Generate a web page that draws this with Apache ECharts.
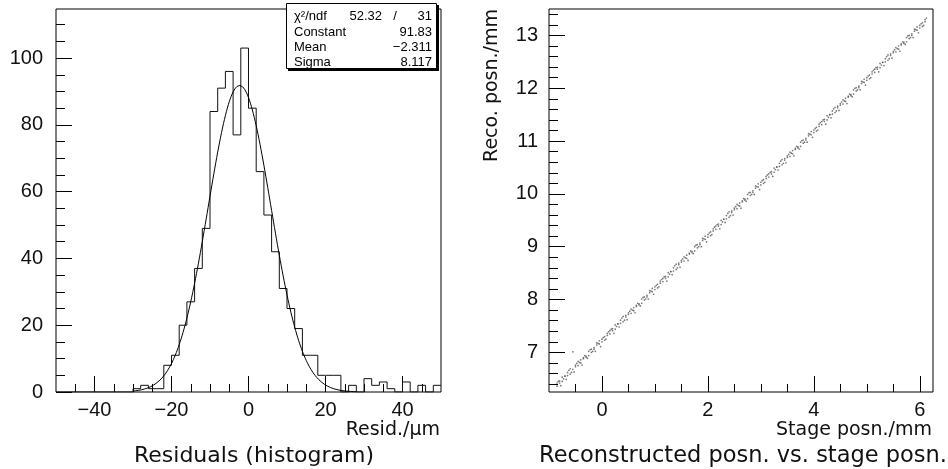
<!DOCTYPE html>
<html>
<head>
<meta charset="utf-8">
<title>Residuals and reconstructed position</title>
<script src="https://cdn.jsdelivr.net/npm/echarts/dist/echarts.min.js"></script>
<style>
  html, body { margin: 0; padding: 0; background: #fff; }
  #chart { width: 948px; height: 469px; }
</style>
</head>
<body>
<div id="chart"></div>
<script>
// ---- Residual histogram: 2 um bins from -50 to 50 ----
const binLowEdges = [
  -50, -48, -46, -44, -42, -40, -38, -36, -34, -32,
  -30, -28, -26, -24, -22, -20, -18, -16, -14, -12,
  -10, -8, -6, -4, -2, 0, 2, 4, 6, 8,
  10, 12, 14, 16, 18, 20, 22, 24, 26, 28,
  30, 32, 34, 36, 38, 40, 42, 44, 46, 48
];
const binCounts = [
  0, 0, 0, 0, 0, 0, 0, 0, 0, 0,
  1, 2, 1, 1, 8, 11, 20, 27, 37, 49,
  84, 91, 96, 77, 103, 85, 66, 53, 42, 31,
  25, 19, 11, 11, 5, 5, 5, 0, 2, 0,
  4, 2, 3, 1, 0, 3, 0, 2, 0, 2
];
const histUpperEdge = 50;

// Gaussian fit result
const fitChi2 = 52.32;
const fitNdf = 31;
const fitConstant = 91.83;
const fitMean = -2.311;
const fitSigma = 8.117;
const fitRange = [-30, 28];

// Histogram axes ticks
const residMajorTicks = [-40, -20, 0, 20, 40];
const residMinorTicks = [-45, -40, -35, -30, -25, -20, -15, -10, -5, 0, 5, 10, 15, 20, 25, 30, 35, 40, 45];
const countMajorTicks = [0, 20, 40, 60, 80, 100];
const countMinorTicks = [5, 10, 15, 20, 25, 30, 35, 40, 45, 50, 55, 60, 65, 70, 75, 80, 85, 90, 95, 100, 105, 110];

// ---- Reconstructed vs stage position ----
// two readings at each main stage step
const stagePosn = [
  -0.85, -0.80, -0.75, -0.70, -0.65, -0.60, -0.55, -0.50, -0.45, -0.40,
  -0.35, -0.30, -0.25, -0.20, -0.15, -0.10, -0.05, 0.00, 0.05, 0.10,
  0.15, 0.20, 0.25, 0.30, 0.35, 0.40, 0.45, 0.50, 0.55, 0.60,
  0.65, 0.70, 0.75, 0.80, 0.85, 0.90, 0.95, 1.00, 1.05, 1.10,
  1.15, 1.20, 1.25, 1.30, 1.35, 1.40, 1.45, 1.50, 1.55, 1.60,
  1.65, 1.70, 1.75, 1.80, 1.85, 1.90, 1.95, 2.00, 2.05, 2.10,
  2.15, 2.20, 2.25, 2.30, 2.35, 2.40, 2.45, 2.50, 2.55, 2.60,
  2.65, 2.70, 2.75, 2.80, 2.85, 2.90, 2.95, 3.00, 3.05, 3.10,
  3.15, 3.20, 3.25, 3.30, 3.35, 3.40, 3.45, 3.50, 3.55, 3.60,
  3.65, 3.70, 3.75, 3.80, 3.85, 3.90, 3.95, 4.00, 4.05, 4.10,
  4.15, 4.20, 4.25, 4.30, 4.35, 4.40, 4.45, 4.50, 4.55, 4.60,
  4.65, 4.70, 4.75, 4.80, 4.85, 4.90, 4.95, 5.00, 5.05, 5.10,
  5.15, 5.20, 5.25, 5.30, 5.35, 5.40, 5.45, 5.50, 5.55, 5.60,
  5.65, 5.70, 5.75, 5.80, 5.85, 5.90, 5.95, 6.00, 6.05, 6.10
];
const recoPosnA = [
  6.42, 6.42, 6.53, 6.55, 6.56, 6.69, 6.68, 6.76, 6.75, 6.86,
  6.88, 6.91, 7.02, 7.00, 7.09, 7.18, 7.16, 7.25, 7.23, 7.36,
  7.41, 7.41, 7.52, 7.54, 7.55, 7.68, 7.67, 7.75, 7.74, 7.85,
  7.87, 7.90, 8.01, 7.99, 8.08, 8.17, 8.15, 8.24, 8.22, 8.35,
  8.40, 8.40, 8.51, 8.53, 8.54, 8.67, 8.66, 8.74, 8.73, 8.84,
  8.86, 8.89, 9.00, 8.98, 9.07, 9.16, 9.14, 9.23, 9.21, 9.34,
  9.39, 9.39, 9.50, 9.52, 9.53, 9.66, 9.65, 9.73, 9.72, 9.83,
  9.85, 9.88, 9.99, 9.97, 10.06, 10.15, 10.13, 10.22, 10.20, 10.33,
  10.38, 10.38, 10.49, 10.51, 10.52, 10.65, 10.64, 10.72, 10.71, 10.82,
  10.84, 10.87, 10.98, 10.96, 11.05, 11.14, 11.12, 11.21, 11.19, 11.32,
  11.37, 11.37, 11.48, 11.50, 11.51, 11.64, 11.63, 11.71, 11.70, 11.81,
  11.83, 11.86, 11.97, 11.95, 12.04, 12.13, 12.11, 12.20, 12.18, 12.31,
  12.36, 12.36, 12.47, 12.49, 12.50, 12.63, 12.62, 12.70, 12.69, 12.80,
  12.82, 12.85, 12.96, 12.94, 13.03, 13.12, 13.10, 13.19, 13.17, 13.30
];
const recoPosnB = [
  6.36, 6.46, 6.45, 6.55, 6.62, 6.59, 7.01, 6.73, 6.83, 6.80,
  6.90, 6.93, 6.94, 7.06, 7.06, 7.14, 7.22, 7.20, 7.30, 7.32,
  7.35, 7.45, 7.44, 7.54, 7.61, 7.58, 7.70, 7.72, 7.82, 7.79,
  7.89, 7.92, 7.93, 8.05, 8.05, 8.13, 8.21, 8.19, 8.29, 8.31,
  8.34, 8.44, 8.43, 8.53, 8.60, 8.57, 8.69, 8.71, 8.81, 8.78,
  8.88, 8.91, 8.92, 9.04, 9.04, 9.12, 9.20, 9.18, 9.28, 9.30,
  9.33, 9.43, 9.42, 9.52, 9.59, 9.56, 9.68, 9.70, 9.80, 9.77,
  9.87, 9.90, 9.91, 10.03, 10.03, 10.11, 10.19, 10.17, 10.27, 10.29,
  10.32, 10.42, 10.41, 10.51, 10.58, 10.55, 10.67, 10.69, 10.79, 10.76,
  10.86, 10.89, 10.90, 11.02, 11.02, 11.10, 11.18, 11.16, 11.26, 11.28,
  11.31, 11.41, 11.40, 11.50, 11.57, 11.54, 11.66, 11.68, 11.78, 11.75,
  11.85, 11.88, 11.89, 12.01, 12.01, 12.09, 12.17, 12.15, 12.25, 12.27,
  12.30, 12.40, 12.39, 12.49, 12.56, 12.53, 12.65, 12.67, 12.77, 12.74,
  12.84, 12.87, 12.88, 13.00, 13.00, 13.08, 13.16, 13.14, 13.24, 13.26
];
// one reading at each intermediate stage step
const stagePosnC = [
  -0.825, -0.775, -0.725, -0.675, -0.625, -0.575, -0.525, -0.475, -0.425, -0.375,
  -0.325, -0.275, -0.225, -0.175, -0.125, -0.075, -0.025, 0.025, 0.075, 0.125,
  0.175, 0.225, 0.275, 0.325, 0.375, 0.425, 0.475, 0.525, 0.575, 0.625,
  0.675, 0.725, 0.775, 0.825, 0.875, 0.925, 0.975, 1.025, 1.075, 1.125,
  1.175, 1.225, 1.275, 1.325, 1.375, 1.425, 1.475, 1.525, 1.575, 1.625,
  1.675, 1.725, 1.775, 1.825, 1.875, 1.925, 1.975, 2.025, 2.075, 2.125,
  2.175, 2.225, 2.275, 2.325, 2.375, 2.425, 2.475, 2.525, 2.575, 2.625,
  2.675, 2.725, 2.775, 2.825, 2.875, 2.925, 2.975, 3.025, 3.075, 3.125,
  3.175, 3.225, 3.275, 3.325, 3.375, 3.425, 3.475, 3.525, 3.575, 3.625,
  3.675, 3.725, 3.775, 3.825, 3.875, 3.925, 3.975, 4.025, 4.075, 4.125,
  4.175, 4.225, 4.275, 4.325, 4.375, 4.425, 4.475, 4.525, 4.575, 4.625,
  4.675, 4.725, 4.775, 4.825, 4.875, 4.925, 4.975, 5.025, 5.075, 5.125,
  5.175, 5.225, 5.275, 5.325, 5.375, 5.425, 5.475, 5.525, 5.575, 5.625,
  5.675, 5.725, 5.775, 5.825, 5.875, 5.925, 5.975, 6.025, 6.075, 6.125
];
const recoPosnC = [
  6.45, 6.37, 6.50, 6.49, 6.66, 6.62, 6.63, 6.79, 6.81, 6.76,
  6.94, 6.89, 7.05, 7.02, 7.02, 7.17, 7.11, 7.28, 7.25, 7.39,
  7.44, 7.36, 7.49, 7.48, 7.65, 7.61, 7.62, 7.78, 7.80, 7.75,
  7.93, 7.88, 8.04, 8.01, 8.01, 8.16, 8.10, 8.27, 8.24, 8.38,
  8.43, 8.35, 8.48, 8.47, 8.64, 8.60, 8.61, 8.77, 8.79, 8.74,
  8.92, 8.87, 9.03, 9.00, 9.00, 9.15, 9.09, 9.26, 9.23, 9.37,
  9.42, 9.34, 9.47, 9.46, 9.63, 9.59, 9.60, 9.76, 9.78, 9.73,
  9.91, 9.86, 10.02, 9.99, 9.99, 10.14, 10.08, 10.25, 10.22, 10.36,
  10.41, 10.33, 10.46, 10.45, 10.62, 10.58, 10.59, 10.75, 10.77, 10.72,
  10.90, 10.85, 11.01, 10.98, 10.98, 11.13, 11.07, 11.24, 11.21, 11.35,
  11.40, 11.32, 11.45, 11.44, 11.61, 11.57, 11.58, 11.74, 11.76, 11.71,
  11.89, 11.84, 12.00, 11.97, 11.97, 12.12, 12.06, 12.23, 12.20, 12.34,
  12.39, 12.31, 12.44, 12.43, 12.60, 12.56, 12.57, 12.73, 12.75, 12.70,
  12.88, 12.83, 12.99, 12.96, 12.96, 13.11, 13.05, 13.22, 13.19, 13.33
];

// Scatter axes ticks
const stageMajorTicks = [0, 2, 4, 6];
const stageMinorTicks = [-0.5, 0, 0.5, 1, 1.5, 2, 2.5, 3, 3.5, 4, 4.5, 5, 5.5, 6];
const recoMajorTicks = [7, 8, 9, 10, 11, 12, 13];
const recoMinorTicks = [
  6.4, 6.6, 6.8, 7.0, 7.2, 7.4, 7.6, 7.8, 8.0, 8.2, 8.4, 8.6, 8.8, 9.0, 9.2, 9.4, 9.6, 9.8,
  10.0, 10.2, 10.4, 10.6, 10.8, 11.0, 11.2, 11.4, 11.6, 11.8, 12.0, 12.2, 12.4, 12.6, 12.8,
  13.0, 13.2, 13.4
];

// ---- build series data ----
const histData = binLowEdges.map((e, i) => [e, binCounts[i]]);
histData.push([histUpperEdge, binCounts[binCounts.length - 1]]);

const fitCurve = [];
for (let x = fitRange[0]; x <= fitRange[1] + 1e-9; x += 0.25) {
  const t = (x - fitMean) / fitSigma;
  fitCurve.push([x, fitConstant * Math.exp(-0.5 * t * t)]);
}

const scatterData = [];
stagePosn.forEach((x, i) => {
  scatterData.push([x, recoPosnA[i]]);
  scatterData.push([x, recoPosnB[i]]);
});
stagePosnC.forEach((x, i) => {
  scatterData.push([x, recoPosnC[i]]);
});

// ---- styling helpers ----
const NUM_FONT = 'Liberation Sans';
const TXT_FONT = 'DejaVu Sans';
const minusSign = v => String(v).replace('-', '\u2212');

function tickAxis(gridIndex, min, max, ticks, len, position, labelMargin) {
  const axis = {
    type: 'value',
    gridIndex: gridIndex,
    position: position,
    min: min,
    max: max,
    axisLine: { show: false, onZero: false },
    splitLine: { show: false },
    axisTick: {
      show: true, inside: true, length: len, customValues: ticks,
      lineStyle: { color: '#000', width: 1 }
    },
    axisLabel: { show: false }
  };
  if (labelMargin != null) {
    axis.axisLabel = {
      show: true, customValues: ticks, color: '#111',
      fontFamily: NUM_FONT, fontSize: 20, margin: labelMargin, formatter: minusSign
    };
  }
  return axis;
}

const chart = echarts.init(document.getElementById('chart'), null, { renderer: 'canvas', width: 948, height: 469 });

const gridL = { left: 56, top: 9, width: 385, height: 383 };
const gridR = { left: 549, top: 9, width: 384, height: 383 };

const xResid = [-50, 50], yCount = [0, 114.7];
const xStage = [-1, 6.25], yReco = [6.25, 13.5];

function boxText(text, x, y, align) {
  return {
    type: 'text', x: x, y: y, z: 102,
    style: {
      text: text, fill: '#000', font: '13px "' + NUM_FONT + '"',
      align: align, textAlign: align, verticalAlign: 'middle', textVerticalAlign: 'middle'
    }
  };
}
function plainText(text, x, y, align, size, extra) {
  return Object.assign({
    type: 'text', x: x, y: y, z: 50,
    style: {
      text: text, fill: '#111', font: size + 'px "' + TXT_FONT + '"',
      align: align, textAlign: align, verticalAlign: 'middle', textVerticalAlign: 'middle'
    }
  }, extra || {});
}

chart.setOption({
  animation: false,
  backgroundColor: '#fff',
  grid: [
    Object.assign({ show: true, borderColor: '#000', borderWidth: 1, backgroundColor: 'transparent' }, gridL),
    Object.assign({ show: true, borderColor: '#000', borderWidth: 1, backgroundColor: 'transparent' }, gridR)
  ],
  xAxis: [
    tickAxis(0, xResid[0], xResid[1], residMinorTicks, 8, 'bottom'),
    tickAxis(0, xResid[0], xResid[1], residMajorTicks, 16, 'bottom', 8),
    tickAxis(1, xStage[0], xStage[1], stageMinorTicks, 8, 'bottom'),
    tickAxis(1, xStage[0], xStage[1], stageMajorTicks, 16, 'bottom', 8)
  ],
  yAxis: [
    tickAxis(0, yCount[0], yCount[1], countMinorTicks, 9, 'left'),
    tickAxis(0, yCount[0], yCount[1], countMajorTicks, 16, 'left', 13),
    tickAxis(1, yReco[0], yReco[1], recoMinorTicks, 9, 'left'),
    tickAxis(1, yReco[0], yReco[1], recoMajorTicks, 16, 'left', 11)
  ],
  series: [
    {
      name: 'Residuals',
      type: 'line',
      xAxisIndex: 1, yAxisIndex: 1,
      step: 'end',
      data: histData,
      symbol: 'none',
      lineStyle: { color: '#111', width: 1 },
      z: 3
    },
    {
      name: 'Gaussian fit',
      type: 'line',
      xAxisIndex: 1, yAxisIndex: 1,
      data: fitCurve,
      symbol: 'none',
      lineStyle: { color: '#000', width: 1 },
      z: 4
    },
    {
      name: 'Reco vs stage',
      type: 'scatter',
      xAxisIndex: 3, yAxisIndex: 3,
      data: scatterData,
      symbol: 'circle',
      symbolSize: 1.7,
      itemStyle: { color: '#555' },
      z: 3
    }
  ],
  graphic: [
    // statistics box with drop shadow
    { type: 'rect', z: 100, shape: { x: 288, y: 5, width: 151, height: 66 }, style: { fill: '#000' } },
    { type: 'rect', z: 101, shape: { x: 286.5, y: 3.5, width: 150, height: 65 }, style: { fill: '#fff', stroke: '#000', lineWidth: 1 } },
    boxText('\u03c7\u00b2/ndf', 294, 16, 'left'),
    boxText(String(fitChi2), 382, 16, 'right'),
    boxText('/', 395, 16, 'center'),
    boxText(String(fitNdf), 432, 16, 'right'),
    boxText('Constant', 294, 32, 'left'),
    boxText(fitConstant.toFixed(2), 432, 32, 'right'),
    boxText('Mean', 294, 47.5, 'left'),
    boxText(minusSign(fitMean.toFixed(3)), 432, 47.5, 'right'),
    boxText('Sigma', 294, 62, 'left'),
    boxText(fitSigma.toFixed(3), 432, 62, 'right'),

    // axis titles and captions
    plainText('Resid./\u03bcm', 440, 430, 'right', 19),
    plainText('Residuals (histogram)', 254, 456, 'center', 22),
    plainText('Stage posn./mm', 932, 430, 'right', 19),
    plainText('Reconstructed posn. vs. stage posn.', 743, 456, 'center', 22.5),
    plainText('Reco. posn./mm', 492, 9, 'right', 19, { rotation: Math.PI / 2 })
  ]
});
</script>
</body>
</html>
